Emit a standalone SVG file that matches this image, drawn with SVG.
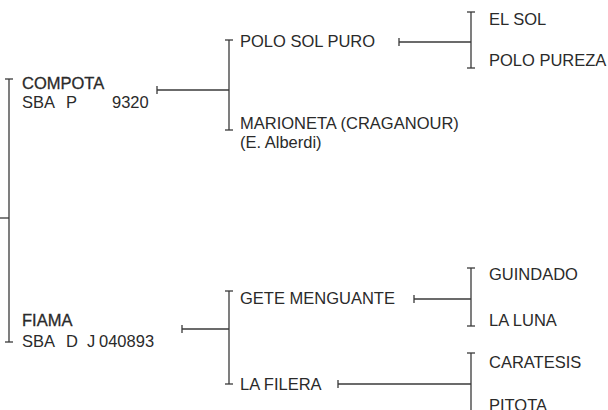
<svg xmlns="http://www.w3.org/2000/svg" width="608" height="410" viewBox="0 0 608 410">
<style>
text{font-family:"Liberation Sans",Arial,sans-serif;font-size:16.5px;fill:#2a2a2a}
.b{stroke:#2a2a2a;stroke-width:0.3px}
.c line{stroke:#3a3a3a;stroke-width:1.3;fill:none}
</style>
<rect width="608" height="410" fill="#fff"/>
<g id="connectors" class="c">
<line x1="0" y1="218" x2="9" y2="218"/>
<line x1="9" y1="79" x2="9" y2="342"/>
<line x1="5" y1="79" x2="13" y2="79"/>
<line x1="5" y1="342" x2="13" y2="342"/>
<line x1="157" y1="86" x2="157" y2="94"/>
<line x1="157" y1="90" x2="229" y2="90"/>
<line x1="229" y1="40" x2="229" y2="130"/>
<line x1="225" y1="40" x2="233" y2="40"/>
<line x1="225" y1="130" x2="233" y2="130"/>
<line x1="399" y1="38" x2="399" y2="46"/>
<line x1="399" y1="42" x2="471" y2="42"/>
<line x1="471" y1="12" x2="471" y2="68"/>
<line x1="467" y1="12" x2="475" y2="12"/>
<line x1="467" y1="68" x2="475" y2="68"/>
<line x1="182" y1="325" x2="182" y2="333"/>
<line x1="182" y1="329" x2="229" y2="329"/>
<line x1="229" y1="291" x2="229" y2="384"/>
<line x1="225" y1="291" x2="233" y2="291"/>
<line x1="225" y1="384" x2="233" y2="384"/>
<line x1="414" y1="295" x2="414" y2="303"/>
<line x1="414" y1="299" x2="471" y2="299"/>
<line x1="471" y1="268" x2="471" y2="326"/>
<line x1="467" y1="268" x2="475" y2="268"/>
<line x1="467" y1="326" x2="475" y2="326"/>
<line x1="338" y1="380" x2="338" y2="388"/>
<line x1="338" y1="384" x2="471" y2="384"/>
<line x1="471" y1="353" x2="471" y2="420"/>
<line x1="467" y1="353" x2="475" y2="353"/>
</g>
<g id="compota"><text x="22" y="89" class="b">COMPOTA</text><text y="108"><tspan x="22">SBA</tspan><tspan x="66">P</tspan><tspan x="112">9320</tspan></text></g>
<g id="fiama"><text x="22" y="326" class="b">FIAMA</text><text y="347"><tspan x="22">SBA</tspan><tspan x="66">D</tspan><tspan x="87">J</tspan><tspan x="99">040893</tspan></text></g>
<g id="polo-sol-puro"><text x="240" y="47">POLO SOL PURO</text></g>
<g id="marioneta"><text x="240" y="129">MARIONETA (CRAGANOUR)</text><text x="240" y="148">(E. Alberdi)</text></g>
<g id="el-sol"><text x="489" y="25">EL SOL</text></g>
<g id="polo-pureza"><text x="489" y="66">POLO PUREZA</text></g>
<g id="gete-menguante"><text x="240" y="304">GETE MENGUANTE</text></g>
<g id="la-filera"><text x="240" y="390">LA FILERA</text></g>
<g id="guindado"><text x="489" y="280">GUINDADO</text></g>
<g id="la-luna"><text x="489" y="326">LA LUNA</text></g>
<g id="caratesis"><text x="489" y="368">CARATESIS</text></g>
<g id="pitota"><text x="489" y="411">PITOTA</text></g>
</svg>
